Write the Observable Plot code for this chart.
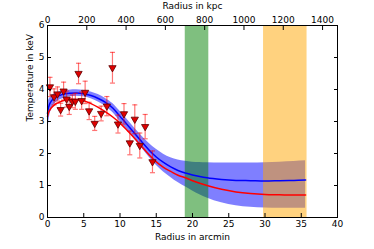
<!DOCTYPE html>
<html>
<head>
<meta charset="utf-8">
<script src="https://cdn.jsdelivr.net/npm/d3@7"></script>
<script src="https://cdn.jsdelivr.net/npm/@observablehq/plot@0.6"></script>
<style>
  html, body { margin: 0; padding: 0; background: white; }
</style>
</head>
<body>
<div id="chart"></div>
<script>
// Observed data points (radius in arcmin, temperature in keV, error)
const obsR = [0.34, 0.91, 1.38, 1.81, 2.22, 2.64, 3.0, 3.43, 3.84, 4.28, 4.71, 5.19, 5.74, 6.51, 7.4, 8.19, 8.96, 9.72, 10.55, 11.35, 12.04, 12.73, 13.47, 14.48];
const obsT = [4.08, 3.77, 3.86, 3.37, 3.95, 3.70, 3.47, 3.63, 3.63, 4.50, 3.65, 3.91, 3.33, 2.94, 3.25, 3.48, 4.68, 2.92, 3.24, 2.33, 3.07, 2.25, 2.84, 1.74];
const obsErr = [0.30, 0.25, 0.22, 0.20, 0.28, 0.25, 0.25, 0.20, 0.25, 0.32, 0.27, 0.35, 0.27, 0.22, 0.23, 0.30, 0.48, 0.28, 0.32, 0.37, 0.45, 0.39, 0.38, 0.34];

// Model curves
const modelR = [0, 0.1, 0.25, 0.5, 1, 1.5, 2, 3, 4, 5, 6, 7, 8, 9, 10, 11, 12, 13, 14, 15, 16, 17, 18, 19, 20, 21, 22, 24, 26, 28, 30, 32, 34, 35.6];
const blueMean = [3.25, 3.4, 3.52, 3.63, 3.74, 3.8, 3.84, 3.88, 3.89, 3.87, 3.81, 3.72, 3.6, 3.42, 3.16, 2.9, 2.63, 2.37, 2.11, 1.89, 1.72, 1.58, 1.47, 1.39, 1.33, 1.28, 1.24, 1.19, 1.16, 1.15, 1.14, 1.15, 1.16, 1.17];
const blueUpper = [3.5, 3.62, 3.7, 3.78, 3.87, 3.92, 3.95, 3.98, 3.99, 3.97, 3.92, 3.84, 3.72, 3.56, 3.32, 3.06, 2.8, 2.55, 2.32, 2.13, 1.98, 1.87, 1.8, 1.76, 1.73, 1.72, 1.71, 1.70, 1.70, 1.70, 1.71, 1.73, 1.75, 1.77];
const blueLower = [2.5, 2.8, 3.1, 3.35, 3.55, 3.65, 3.7, 3.77, 3.79, 3.77, 3.71, 3.61, 3.48, 3.28, 3.0, 2.74, 2.45, 2.17, 1.89, 1.63, 1.42, 1.25, 1.09, 0.96, 0.83, 0.71, 0.61, 0.46, 0.37, 0.32, 0.30, 0.29, 0.29, 0.29];
const redMean = [3.15, 3.25, 3.33, 3.42, 3.53, 3.59, 3.64, 3.69, 3.69, 3.65, 3.56, 3.44, 3.3, 3.14, 2.95, 2.72, 2.48, 2.22, 1.96, 1.74, 1.57, 1.44, 1.32, 1.24, 1.15, 1.07, 1.0, 0.88, 0.8, 0.75, 0.72, 0.71, 0.70, 0.70];

// Shaded radial bands (arcmin)
const bandStart = [19.0, 29.8];
const bandEnd = [22.25, 35.8];
const bandColor = ["green", "orange"];

// Axis ticks and titles
const xTicks = [0, 5, 10, 15, 20, 25, 30, 35, 40];
const yTicks = [0, 1, 2, 3, 4, 5, 6];
const kpcTicks = [0, 200, 400, 600, 800, 1000, 1200, 1400];
const kpcPerArcmin = 36.9;
const xTitle = "Radius in arcmin";
const topTitle = "Radius in kpc";
const yTitle = "Temperature in keV";

const points = obsR.map((r, i) => ({r, t: obsT[i], e: obsErr[i]}));
const model = modelR.map((r, i) => ({r, mean: blueMean[i], up: blueUpper[i], lo: blueLower[i], red: redMean[i]}));
const bands = bandStart.map((s, i) => ({s, e: bandEnd[i], c: bandColor[i]}));

const capHalf = 0.35;

const chart = Plot.plot({
  width: 374,
  height: 249,
  marginLeft: 47,
  marginRight: 37,
  marginTop: 25,
  marginBottom: 32,
  x: {domain: [0, 40]},
  y: {domain: [0, 6]},
  style: {fontFamily: "DejaVu Sans", fontSize: "9px", background: "white", color: "black"},
  marks: [
    Plot.areaY(model, {x: "r", y1: "lo", y2: "up", fill: "blue", fillOpacity: 0.5, curve: "monotone-x"}),
    Plot.rect(bands, {x1: "s", x2: "e", y1: 0, y2: 6, fill: "c", fillOpacity: 0.5}),
    Plot.line(model, {x: "r", y: "mean", stroke: "blue", strokeWidth: 1.5, curve: "monotone-x"}),
    Plot.line(model, {x: "r", y: "red", stroke: "red", strokeWidth: 1.5, curve: "monotone-x"}),
    Plot.ruleX(points, {x: "r", y1: d => d.t - d.e, y2: d => d.t + d.e, stroke: "red", strokeOpacity: 0.55, strokeWidth: 1.2}),
    Plot.link(points, {x1: d => d.r - capHalf, x2: d => d.r + capHalf, y1: d => d.t + d.e, y2: d => d.t + d.e, stroke: "red", strokeOpacity: 0.55, strokeWidth: 1.2}),
    Plot.link(points, {x1: d => d.r - capHalf, x2: d => d.r + capHalf, y1: d => d.t - d.e, y2: d => d.t - d.e, stroke: "red", strokeOpacity: 0.55, strokeWidth: 1.2}),
    Plot.dot(points, {x: "r", y: "t", symbol: "triangle", rotate: 180, r: 2.7, fill: "#e00000", stroke: "#600000", strokeWidth: 0.8}),
    Plot.frame({stroke: "black", strokeWidth: 1}),
    Plot.axisX({anchor: "bottom", ticks: xTicks, tickFormat: d => String(d), tickSize: -4, tickPadding: 7, label: null, fontSize: 9}),
    Plot.axisX({anchor: "top", ticks: kpcTicks.map(k => k / kpcPerArcmin), tickFormat: d => String(Math.round(d * kpcPerArcmin)), tickSize: -4, tickPadding: 7, label: null, fontSize: 9}),
    Plot.axisY({anchor: "left", ticks: yTicks, tickFormat: d => String(d), tickSize: -4, tickPadding: 7, label: null, fontSize: 9}),
    Plot.axisY({anchor: "right", ticks: yTicks, tickSize: -4, tickFormat: () => "", label: null}),
    Plot.text([xTitle], {text: d => d, frameAnchor: "bottom", dy: 20, lineAnchor: "middle", fontSize: 9}),
    Plot.text([topTitle], {text: d => d, frameAnchor: "top", dy: -19, lineAnchor: "middle", fontSize: 9}),
    Plot.text([yTitle], {text: d => d, frameAnchor: "left", dx: -17, rotate: -90, lineAnchor: "middle", fontSize: 9})
  ]
});
document.getElementById("chart").appendChild(chart);
</script>
</body>
</html>
